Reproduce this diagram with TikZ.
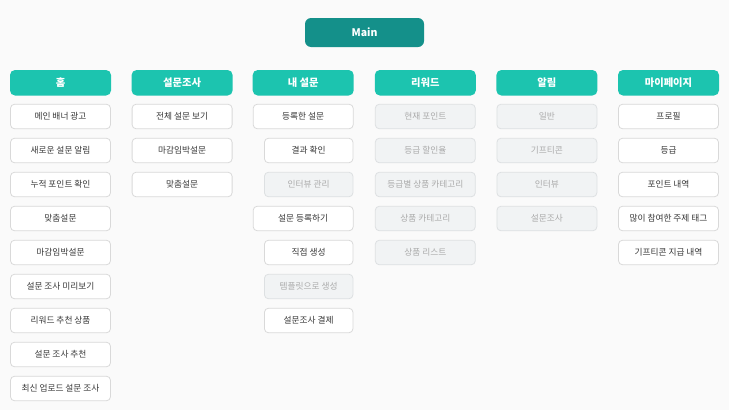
\documentclass[tikz,border=0pt]{standalone}
\usepackage{fontspec}
\setmainfont{Noto Sans CJK KR}
\definecolor{bgc}{HTML}{FAFAFA}
\definecolor{mainfill}{HTML}{14908A}
\definecolor{headfill}{HTML}{1CC4AF}
\definecolor{itemborder}{HTML}{D9D9D9}
\definecolor{itemtext}{HTML}{383838}
\definecolor{offfill}{HTML}{F1F3F4}
\definecolor{offborder}{HTML}{DDE0E2}
\definecolor{offtext}{HTML}{ABABAB}
\begin{document}
\begin{tikzpicture}[x=1pt,y=-1pt,
  box/.style={draw=itemborder, line width=0.8pt, fill=white, rounded corners=4pt, minimum width=100pt, minimum height=24.5pt, inner sep=0pt, font=\fontsize{8.7}{10}\selectfont, text=itemtext},
  subbox/.style={box, minimum width=88.5pt},
  off/.style={fill=offfill, draw=offborder, text=offtext},
  head/.style={fill=headfill, rounded corners=5pt, minimum width=101pt, minimum height=25.5pt, inner sep=0pt, text=white, font=\fontsize{10.3}{12}\selectfont\bfseries},
  mainbox/.style={fill=mainfill, rounded corners=6pt, minimum width=119pt, minimum height=29pt, inner sep=0pt, text=white, font=\fontsize{10.5}{12}\selectfont\bfseries}
]
\useasboundingbox (0,0) rectangle (729,410);
\fill[bgc] (0,0) rectangle (729,410);

\node[mainbox] (main) at (364.5,32.5) {Main};

% headers
\node[head] (h1) at (60.5,82.75) {홈};
\node[head] (h2) at (182.1,82.75) {설문조사};
\node[head] (h3) at (303.2,82.75) {내 설문};
\node[head] (h4) at (425.3,82.75) {리워드};
\node[head] (h5) at (546.9,82.75) {알림};
\node[head] (h6) at (668.5,82.75) {마이페이지};

% column 1
\node[box] (a1) at (60.5,116.5) {메인 배너 광고};
\node[box] (a2) at (60.5,150.5) {새로운 설문 알림};
\node[box] (a3) at (60.5,184.5) {누적 포인트 확인};
\node[box] (a4) at (60.5,218.5) {맞춤설문};
\node[box] (a5) at (60.5,252.5) {마감임박설문};
\node[box] (a6) at (60.5,286.5) {설문 조사 미리보기};
\node[box] (a7) at (60.5,320.5) {리워드 추천 상품};
\node[box] (a8) at (60.5,354.5) {설문 조사 추천};
\node[box] (a9) at (60.5,388.5) {최신 업로드 설문 조사};

% column 2
\node[box] (b1) at (182.1,116.5) {전체 설문 보기};
\node[box] (b2) at (182.1,150.5) {마감임박설문};
\node[box] (b3) at (182.1,184.5) {맞춤설문};

% column 3
\node[box] (c1) at (303.2,116.5) {등록한 설문};
\node[subbox] (c2) at (308.7,150.5) {결과 확인};
\node[subbox,off] (c3) at (308.7,184.5) {인터뷰 관리};
\node[box] (c4) at (303.2,218.5) {설문 등록하기};
\node[subbox] (c5) at (308.7,252.5) {직접 생성};
\node[subbox,off] (c6) at (308.7,286.5) {템플릿으로 생성};
\node[subbox] (c7) at (308.7,320.5) {설문조사 결제};

% column 4
\node[box,off] (d1) at (425.3,116.5) {현재 포인트};
\node[box,off] (d2) at (425.3,150.5) {등급 할인율};
\node[box,off] (d3) at (425.3,184.5) {등급별 상품 카테고리};
\node[box,off] (d4) at (425.3,218.5) {상품 카테고리};
\node[box,off] (d5) at (425.3,252.5) {상품 리스트};

% column 5
\node[box,off] (e1) at (546.9,116.5) {일반};
\node[box,off] (e2) at (546.9,150.5) {기프티콘};
\node[box,off] (e3) at (546.9,184.5) {인터뷰};
\node[box,off] (e4) at (546.9,218.5) {설문조사};

% column 6
\node[box] (f1) at (668.5,116.5) {프로필};
\node[box] (f2) at (668.5,150.5) {등급};
\node[box] (f3) at (668.5,184.5) {포인트 내역};
\node[box] (f4) at (668.5,218.5) {많이 참여한 주제 태그};
\node[box] (f5) at (668.5,252.5) {기프티콘 지급 내역};
\end{tikzpicture}
\end{document}
